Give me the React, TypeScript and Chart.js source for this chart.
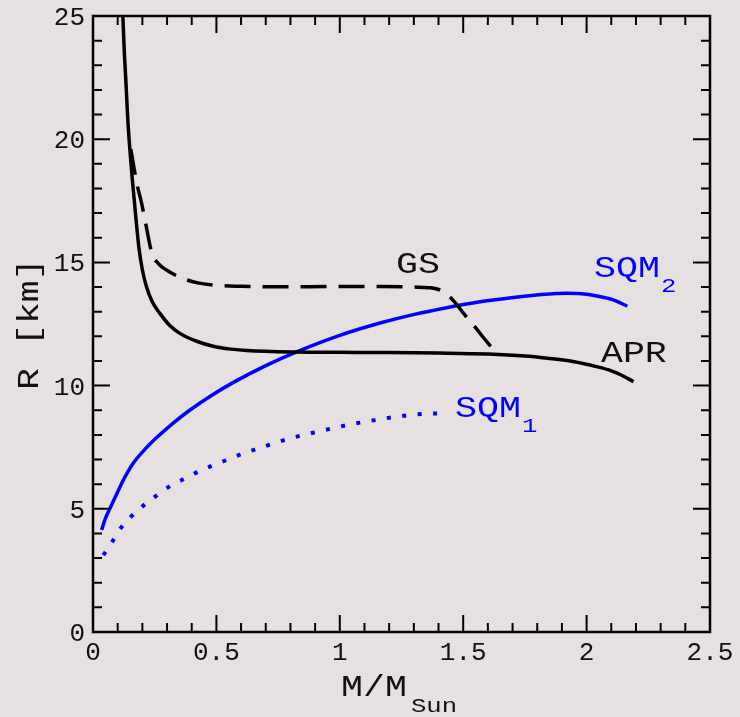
import React, { useEffect, useRef } from "react";
import { Chart, registerables } from "chart.js";

Chart.register(...registerables);

// Mass-radius relations: M in solar masses, R in km
const APR_M = [0.121, 0.127, 0.134, 0.141, 0.150, 0.160, 0.172, 0.186, 0.200, 0.217, 0.240, 0.271, 0.310, 0.352, 0.420, 0.487, 0.560, 0.623, 0.825, 1.0, 1.2, 1.4, 1.6, 1.75, 1.84, 1.95, 2.04, 2.10, 2.14, 2.19];
const APR_R = [25.0, 23.5, 22.2, 20.8, 19.5, 18.3, 17.0, 15.6, 14.7, 14.0, 13.4, 12.93, 12.45, 12.12, 11.8, 11.6, 11.48, 11.42, 11.36, 11.35, 11.34, 11.32, 11.28, 11.2, 11.11, 10.97, 10.77, 10.6, 10.43, 10.16];

const GS_M = [0.153, 0.165, 0.180, 0.197, 0.215, 0.238, 0.265, 0.298, 0.340, 0.380, 0.430, 0.487, 0.600, 0.758, 1.0, 1.163, 1.30, 1.366, 1.40, 1.433, 1.460, 1.50, 1.55, 1.59, 1.629];
const GS_R = [19.6, 18.9, 18.1, 17.4, 16.5, 15.4, 14.95, 14.69, 14.45, 14.29, 14.16, 14.08, 14.03, 14.01, 14.02, 14.02, 14.0, 13.97, 13.9, 13.72, 13.45, 12.95, 12.35, 11.85, 11.38];

const SQM2_M = [0.035, 0.05, 0.069, 0.095, 0.123, 0.163, 0.21, 0.258, 0.32, 0.393, 0.48, 0.569, 0.7, 0.825, 1.0, 1.163, 1.298, 1.433, 1.568, 1.703, 1.82, 1.919, 1.98, 2.041, 2.108, 2.165];
const SQM2_R = [4.14, 4.6, 5.02, 5.58, 6.17, 6.85, 7.41, 7.89, 8.44, 9.01, 9.6, 10.13, 10.81, 11.37, 12.04, 12.54, 12.88, 13.16, 13.4, 13.58, 13.7, 13.75, 13.73, 13.64, 13.48, 13.22];

const SQM1_M = [0.042, 0.078, 0.112, 0.157, 0.204, 0.255, 0.309, 0.366, 0.423, 0.482, 0.542, 0.601, 0.663, 0.724, 0.785, 0.846, 0.906, 0.971, 1.035, 1.095, 1.160, 1.224, 1.288, 1.352, 1.419];
const SQM1_R = [3.12, 3.66, 4.21, 4.71, 5.13, 5.52, 5.9, 6.2, 6.49, 6.75, 6.98, 7.22, 7.43, 7.63, 7.82, 7.98, 8.12, 8.27, 8.41, 8.52, 8.63, 8.73, 8.81, 8.86, 8.87];

// Axis ranges, tick spacing and tick labels
const X_RANGE = [0, 2.5];
const Y_RANGE = [0, 25];
const X_MINOR = 0.1;
const Y_MINOR = 1;
const X_TICKS = [0, 0.5, 1, 1.5, 2, 2.5];
const X_TICK_LABELS = ["0", "0.5", "1", "1.5", "2", "2.5"];
const Y_TICKS = [0, 5, 10, 15, 20, 25];
const Y_TICK_LABELS = ["0", "5", "10", "15", "20", "25"];

const BG = "#e6e0e0";
const BLUE = "#0000ff";
const INK = "#111111";
const FONT = '"Liberation Mono", "DejaVu Sans Mono", monospace';

const toPoints = (xs: number[], ys: number[]) => xs.map((x, i) => ({ x, y: ys[i] }));

function wideText(ctx: CanvasRenderingContext2D, text: string, x: number, y: number, size: number, color: string, sx = 1.22) {
  ctx.save();
  ctx.font = `${size}px ${FONT}`;
  ctx.fillStyle = color;
  ctx.textAlign = "left";
  ctx.textBaseline = "alphabetic";
  ctx.translate(x, y);
  ctx.scale(sx, 1);
  ctx.fillText(text, 0, 0);
  const w = ctx.measureText(text).width * sx;
  ctx.restore();
  return w;
}

// Curve labels, anchored in data coordinates (left edge, baseline)
const CURVE_LABELS = [
  { text: "GS", sub: "", x: 1.228, y: 14.57, color: INK },
  { text: "SQM", sub: "2", x: 2.03, y: 14.41, color: BLUE },
  { text: "APR", sub: "", x: 2.058, y: 10.96, color: INK },
  { text: "SQM", sub: "1", x: 1.467, y: 8.73, color: BLUE },
];

const framePlugin = {
  id: "frameAndLabels",
  afterDatasetsDraw(chart: any) {
    const { ctx, chartArea: a, scales } = chart;
    const xs = scales.x;
    const ys = scales.y;
    const isMajor = (v: number, list: number[]) => list.some((t) => Math.abs(t - v) < 1e-6);

    ctx.save();
    ctx.strokeStyle = "#000";
    ctx.lineWidth = 2;
    ctx.lineCap = "butt";
    ctx.beginPath();
    const nx = Math.round((X_RANGE[1] - X_RANGE[0]) / X_MINOR);
    for (let i = 0; i <= nx; i++) {
      const v = X_RANGE[0] + i * X_MINOR;
      const px = xs.getPixelForValue(v);
      const len = isMajor(v, X_TICKS) ? 17 : 9;
      ctx.moveTo(px, a.bottom);
      ctx.lineTo(px, a.bottom - len);
      ctx.moveTo(px, a.top);
      ctx.lineTo(px, a.top + len);
    }
    const ny = Math.round((Y_RANGE[1] - Y_RANGE[0]) / Y_MINOR);
    for (let i = 0; i <= ny; i++) {
      const v = Y_RANGE[0] + i * Y_MINOR;
      const py = ys.getPixelForValue(v);
      const len = isMajor(v, Y_TICKS) ? 17 : 9;
      ctx.moveTo(a.left, py);
      ctx.lineTo(a.left + len, py);
      ctx.moveTo(a.right, py);
      ctx.lineTo(a.right - len, py);
    }
    ctx.stroke();
    ctx.lineWidth = 2.5;
    ctx.strokeRect(a.left, a.top, a.right - a.left, a.bottom - a.top);

    // tick labels
    ctx.font = `26px ${FONT}`;
    ctx.fillStyle = INK;
    ctx.textBaseline = "alphabetic";
    ctx.textAlign = "center";
    X_TICKS.forEach((v, i) => {
      ctx.fillText(X_TICK_LABELS[i], xs.getPixelForValue(v), a.bottom + 28);
    });
    ctx.textAlign = "right";
    Y_TICKS.forEach((v, i) => {
      ctx.fillText(Y_TICK_LABELS[i], a.left - 8, ys.getPixelForValue(v) + 9);
    });
    ctx.restore();

    // curve labels
    for (const l of CURVE_LABELS) {
      const px = xs.getPixelForValue(l.x);
      const py = ys.getPixelForValue(l.y);
      const w = wideText(ctx, l.text, px, py, 30, l.color);
      if (l.sub) wideText(ctx, l.sub, px + w + 1, py + 15, 21, l.color);
    }

    // axis titles
    const w = wideText(ctx, "M/M", 341, 696, 30, INK);
    wideText(ctx, "Sun", 341 + w + 4, 712, 21, INK);

    ctx.save();
    ctx.translate(38, 390);
    ctx.rotate(-Math.PI / 2);
    wideText(ctx, "R [km]", 0, 0, 30, INK);
    ctx.restore();
  },
};

export default function App() {
  const ref = useRef<HTMLCanvasElement | null>(null);

  useEffect(() => {
    document.body.style.background = BG;
    const canvas = ref.current;
    if (!canvas) return;
    const chart = new Chart(canvas, {
      type: "line",
      data: {
        datasets: [
          {
            label: "APR",
            data: toPoints(APR_M, APR_R),
            borderColor: "#000",
            borderWidth: 3.5,
          },
          {
            label: "GS",
            data: toPoints(GS_M, GS_R),
            borderColor: "#000",
            borderWidth: 3.5,
            borderDash: [26, 12],
          },
          {
            label: "SQM2",
            data: toPoints(SQM2_M, SQM2_R),
            borderColor: BLUE,
            borderWidth: 3.5,
          },
          {
            label: "SQM1",
            data: toPoints(SQM1_M, SQM1_R),
            borderColor: BLUE,
            borderWidth: 4,
            borderDash: [4, 11.5],
            borderCapStyle: "butt",
          },
        ],
      },
      options: {
        responsive: false,
        animation: false,
        events: [],
        layout: { padding: { top: 16, right: 30, left: 0, bottom: 0 } },
        elements: {
          point: { radius: 0 },
          line: { cubicInterpolationMode: "monotone", fill: false },
        },
        plugins: { legend: { display: false }, tooltip: { enabled: false } },
        scales: {
          x: {
            type: "linear",
            min: X_RANGE[0],
            max: X_RANGE[1],
            border: { display: false },
            grid: { display: false, drawTicks: false },
            ticks: { display: false },
            afterFit: (s: any) => {
              s.height = 85;
            },
          },
          y: {
            type: "linear",
            min: Y_RANGE[0],
            max: Y_RANGE[1],
            border: { display: false },
            grid: { display: false, drawTicks: false },
            ticks: { display: false },
            afterFit: (s: any) => {
              s.width = 93;
            },
          },
        },
      },
      plugins: [framePlugin],
    });
    return () => chart.destroy();
  }, []);

  return (
    <div style={{ position: "fixed", left: 0, top: 0, width: 740, height: 717, background: BG }}>
      <canvas ref={ref} width={740} height={717} style={{ display: "block" }} />
    </div>
  );
}
